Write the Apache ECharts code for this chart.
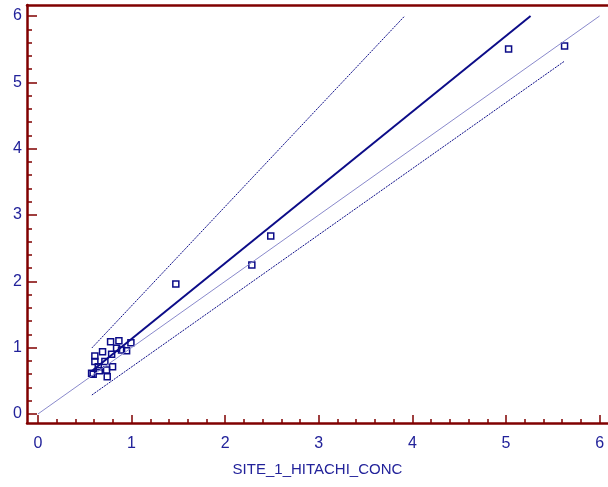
<!DOCTYPE html>
<html>
<head>
<meta charset="utf-8">
<script src="https://cdn.jsdelivr.net/npm/echarts@6/dist/echarts.min.js"></script>
<style>
  html, body { margin: 0; padding: 0; background: #fff; }
  #chart { width: 608px; height: 487px; }
</style>
</head>
<body>
<div id="chart"></div>
<script>
// Measured concentrations: Hitachi (x) against comparison method (y)
const siteX = [0.573, 0.590, 0.608, 0.608, 0.644, 0.655, 0.690, 0.715, 0.733, 0.740,
               0.776, 0.787, 0.797, 0.840, 0.865, 0.893, 0.947, 0.993,
               1.473, 2.285, 2.487, 5.028, 5.626];
const siteY = [0.613, 0.598, 0.874, 0.790, 0.713, 0.653, 0.940, 0.790, 0.663, 0.562,
               1.090, 0.900, 0.713, 0.990, 1.105, 0.965, 0.955, 1.075,
               1.960, 2.246, 2.684, 5.503, 5.548];

// Fitted regression line and the upper / lower bounds
const fitLine   = [[0.576, 0.647], [5.263, 6.0]];
const upperLine = [[0.576, 0.995], [3.918, 6.0]];
const lowerLine = [[0.576, 0.286], [5.626, 5.320]];
// Line of identity
const identityLine = [[0, 0], [6, 6]];

// Axis tick labels
const xTickLabels = [0, 1, 2, 3, 4, 5, 6];
const yTickLabels = [0, 1, 2, 3, 4, 5, 6];
const minorPerUnit = 5;

function minorTicks(major) {
  const out = [];
  for (let i = 0; i < major.length - 1; i++) {
    for (let k = 1; k < minorPerUnit; k++) {
      out.push(+(major[i] + k / minorPerUnit).toFixed(3));
    }
  }
  return out;
}

const points = siteX.map((x, i) => [x, siteY[i]]);

const axisRed = '#800000';
const textBlue = '#22229a';
const markBlue = '#0c0c88';
const font = 'Liberation Sans, Arial, sans-serif';

const xRange = { min: -0.117, max: 6.09 };
const yRange = { min: -0.136, max: 6.166 };
const gridRect = { left: 27, top: 5, width: 582, height: 418 };

const chart = echarts.init(document.getElementById('chart'), null, { renderer: 'canvas' });

chart.setOption({
  animation: false,
  backgroundColor: '#ffffff',
  grid: [
    Object.assign({}, gridRect, { containLabel: false }),
    Object.assign({}, gridRect, { containLabel: false })
  ],
  xAxis: [
    {
      type: 'value', gridIndex: 0, position: 'bottom',
      min: xRange.min, max: xRange.max,
      name: 'SITE_1_HITACHI_CONC', nameLocation: 'middle', nameGap: 39,
      nameTextStyle: { color: textBlue, fontSize: 15, fontFamily: font },
      axisLine: { show: true, onZero: false, lineStyle: { color: axisRed, width: 2.5 } },
      axisTick: { show: true, inside: true, length: 8, customValues: xTickLabels,
                  lineStyle: { color: axisRed, width: 1.5 } },
      axisLabel: { show: true, customValues: xTickLabels, margin: 13,
                   color: textBlue, fontSize: 16, fontFamily: font },
      splitLine: { show: false }
    },
    {
      type: 'value', gridIndex: 1, position: 'bottom',
      min: xRange.min, max: xRange.max,
      axisLine: { show: false, onZero: false },
      axisTick: { show: true, inside: true, length: 4, customValues: minorTicks(xTickLabels),
                  lineStyle: { color: axisRed, width: 1.5 } },
      axisLabel: { show: false },
      splitLine: { show: false }
    },
    {
      type: 'value', gridIndex: 0, position: 'top',
      min: xRange.min, max: xRange.max,
      axisLine: { show: true, onZero: false, lineStyle: { color: axisRed, width: 2.5 } },
      axisTick: { show: false },
      axisLabel: { show: false },
      splitLine: { show: false }
    }
  ],
  yAxis: [
    {
      type: 'value', gridIndex: 0, position: 'left',
      min: yRange.min, max: yRange.max,
      axisLine: { show: true, onZero: false, lineStyle: { color: axisRed, width: 2.5 } },
      axisTick: { show: true, inside: true, length: 10, customValues: yTickLabels,
                  lineStyle: { color: axisRed, width: 1.5 } },
      axisLabel: { show: true, customValues: yTickLabels, margin: 5,
                   color: textBlue, fontSize: 16, fontFamily: font },
      splitLine: { show: false }
    },
    {
      type: 'value', gridIndex: 1, position: 'left',
      min: yRange.min, max: yRange.max,
      axisLine: { show: false, onZero: false },
      axisTick: { show: true, inside: true, length: 5, customValues: minorTicks(yTickLabels),
                  lineStyle: { color: axisRed, width: 1.5 } },
      axisLabel: { show: false },
      splitLine: { show: false }
    }
  ],
  series: [
    {
      name: 'identity', type: 'line', xAxisIndex: 0, yAxisIndex: 0,
      data: identityLine, symbol: 'none', silent: true,
      lineStyle: { color: '#8a8acc', width: 1 }
    },
    {
      name: 'upper', type: 'line', xAxisIndex: 0, yAxisIndex: 0,
      data: upperLine, symbol: 'none', silent: true,
      lineStyle: { color: markBlue, width: 1, type: [2, 1] }
    },
    {
      name: 'lower', type: 'line', xAxisIndex: 0, yAxisIndex: 0,
      data: lowerLine, symbol: 'none', silent: true,
      lineStyle: { color: markBlue, width: 1, type: [2, 1] }
    },
    {
      name: 'fit', type: 'line', xAxisIndex: 0, yAxisIndex: 0,
      data: fitLine, symbol: 'none', silent: true,
      lineStyle: { color: markBlue, width: 2 }
    },
    {
      name: 'samples', type: 'scatter', xAxisIndex: 0, yAxisIndex: 0,
      data: points, symbol: 'rect', symbolSize: 6,
      itemStyle: { color: 'rgba(255,255,255,0)', borderColor: markBlue, borderWidth: 1.5, opacity: 1 }
    }
  ]
});
</script>
</body>
</html>
